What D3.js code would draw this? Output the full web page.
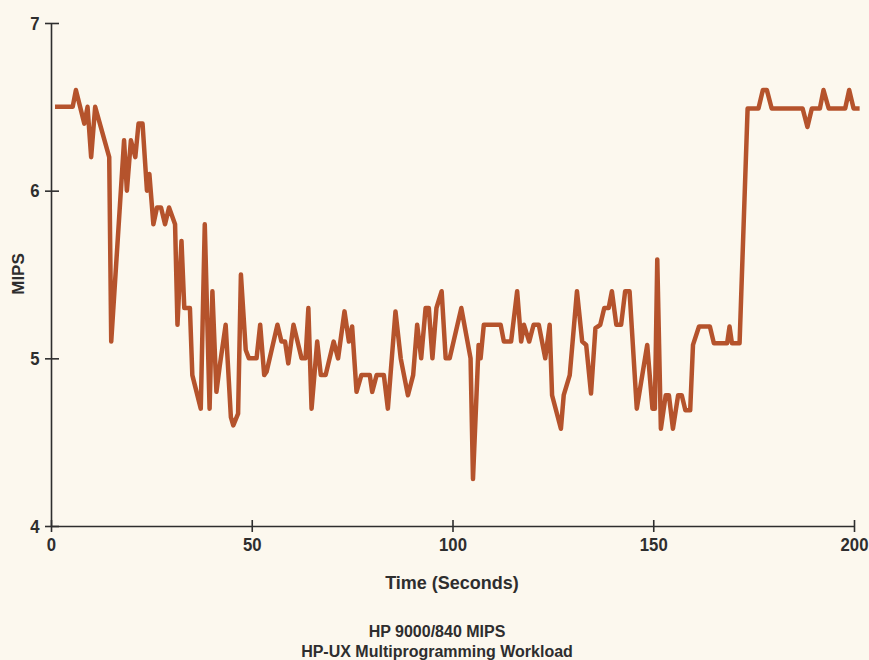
<!DOCTYPE html>
<html lang="en">
	<head>
		<title>HP 9000/840 MIPS</title>
		<script src="https://d3js.org/d3.v7.min.js"></script>
		<style>
			body { margin: 0; background: #fcf8ee; }
			text { fill: #2e2e2e; }
		</style>
	</head>

	<body>
		<script>

			times = [1, 5.4, 6.2, 8.3, 9.1, 10, 11, 14.5, 15, 18.2, 18.9, 19.9, 21, 21.8, 22.8, 23.9, 24.5, 25.5,
				26.4, 27.4, 28.4, 29.4, 30.9, 31.5, 32.5, 33.2, 34.6, 35.2, 37.3, 38.3, 39.5, 40.2, 41.2, 42, 43.5,
				44.8, 45.4, 46.6, 47.3, 48.5, 49.3, 51.2, 52.1, 53.1, 53.7, 56.4, 57.4, 58.3, 59.1, 60.4, 61.4, 62.4,
				63.4, 64.1, 64.9, 66.3, 67.2, 68.4, 70.4, 71.5, 73.1, 74.2, 75, 76.1, 77.3, 79.4, 80, 81.1, 82.9, 83.9,
				85.8, 87.1, 88.9, 90.2, 91.2, 92.2, 93.3, 94.1, 95, 96, 97.3, 98.3, 99.3, 102.2, 104.5, 105.1, 106.5,
				107, 107.8, 112, 112.8, 114.6, 116.1, 117.1, 117.8, 119.1, 120.2, 121.5, 123.1, 124.2, 124.8, 127,
				127.7, 129.2, 131, 132.3, 133.3, 134.5, 135.6, 136.8, 137.8, 138.9, 139.7, 140.8, 142, 143, 144.1,
				145.9, 148.5, 149.8, 150.4, 151, 151.9, 153.1, 153.9, 154.9, 156.2, 157.1, 158, 159.2, 159.9, 161.4,
				164.1, 165.1, 168.4, 169, 169.6, 171.5, 173.5, 176.2, 177.3, 178.3, 179.5, 187.2, 188.4, 189.5,
				191.5, 192.4, 193.7, 197.8, 198.8, 199.9, 201.4];

			mips = [6.5, 6.5, 6.6, 6.4, 6.5, 6.2, 6.5, 6.2, 5.1, 6.3, 6.0, 6.3, 6.2, 6.4, 6.4, 6.0, 6.1, 5.8,
				5.9, 5.9, 5.8, 5.9, 5.8, 5.2, 5.7, 5.3, 5.3, 4.9, 4.7, 5.8, 4.7, 5.4, 4.8, 4.95, 5.2,
				4.65, 4.6, 4.67, 5.5, 5.05, 5.0, 5.0, 5.2, 4.9, 4.92, 5.2, 5.1, 5.1, 4.97, 5.2, 5.1, 5.0,
				5.0, 5.3, 4.7, 5.1, 4.9, 4.9, 5.1, 5.0, 5.28, 5.1, 5.19, 4.8, 4.9, 4.9, 4.8, 4.9, 4.9, 4.7,
				5.28, 5.0, 4.78, 4.9, 5.2, 5.0, 5.3, 5.3, 5.0, 5.3, 5.4, 5.0, 5.0, 5.3, 5.0, 4.28, 5.08,
				5.0, 5.2, 5.2, 5.1, 5.1, 5.4, 5.1, 5.2, 5.1, 5.2, 5.2, 5.0, 5.2, 4.78, 4.58,
				4.78, 4.9, 5.4, 5.1, 5.08, 4.79, 5.18, 5.2, 5.3, 5.3, 5.4, 5.2, 5.2, 5.4, 5.4,
				4.7, 5.08, 4.7, 4.7, 5.59, 4.58, 4.78, 4.78, 4.58, 4.78, 4.78, 4.69, 4.69, 5.08, 5.19,
				5.19, 5.09, 5.09, 5.19, 5.09, 5.09, 6.49, 6.49, 6.6, 6.6, 6.49, 6.49, 6.38, 6.49,
				6.49, 6.6, 6.49, 6.49, 6.6, 6.49, 6.49];

			xTicks = [0, 50, 100, 150, 200];
			yTicks = [4, 5, 6, 7];

			data = times.map((t, i) => ({t: t, v: mips[i]}));

			var width = 869;
			var height = 660;
			var plain = "'Liberation Sans', Arial, sans-serif";

			var svg = d3.select("body").append("svg")
				.attr("width", width)
				.attr("height", height);

			x = d3.scaleLinear()
				.domain([0, 200])
				.range([51, 854]);

			y = d3.scaleLinear()
				.domain([4, 7])
				.range([526, 23]);

			xAxis = g => g
				.attr("transform", `translate(0,${y(4)})`)
				.call(d3.axisBottom(x).tickValues(xTicks).tickFormat(d3.format("d")).tickSize(0).tickPadding(12))
				.call(g => g.selectAll(".tick line").attr("y1", -6).attr("y2", 6));

			yAxis = g => g
				.attr("transform", `translate(${x(0)},0)`)
				.call(d3.axisLeft(y).tickValues(yTicks).tickFormat(d3.format("d")).tickSize(0).tickPadding(13))
				.call(g => g.selectAll(".tick line").attr("x1", -6).attr("x2", 8));

			svg.append("g").call(xAxis);
			svg.append("g").call(yAxis);

			svg.selectAll(".domain, .tick line")
				.attr("stroke", "#2e2e2e")
				.attr("stroke-width", 1.6);
			// condensed look of the printed digits
			svg.selectAll(".tick text")
				.attr("font-size", 19)
				.attr("font-weight", "bold")
				.attr("fill", "#2e2e2e")
				.attr("font-family", plain)
				.attr("transform", "scale(0.88,1)");

			line = d3.line()
				.x(d => x(d.t))
				.y(d => y(d.v));

			svg.append("path")
				.datum(data)
				.attr("fill", "none")
				.attr("stroke", "#b5532c")
				.attr("stroke-width", 4.5)
				.attr("stroke-linejoin", "round")
				.attr("d", line);

			// labels
			svg.append("text")
				.attr("x", 452)
				.attr("y", 589)
				.attr("text-anchor", "middle")
				.attr("font-size", 18)
				.attr("font-weight", "bold")
				.style("font-family", plain)
				.text("Time (Seconds)");

			svg.append("text")
				.attr("transform", "translate(24,274) rotate(-90)")
				.attr("text-anchor", "middle")
				.attr("font-size", 17)
				.attr("font-weight", "bold")
				.style("font-family", plain)
				.text("MIPS");

			svg.append("text")
				.attr("x", 437)
				.attr("y", 637)
				.attr("text-anchor", "middle")
				.attr("font-size", 16)
				.attr("font-weight", "bold")
				.style("font-family", plain)
				.text("HP 9000/840 MIPS");

			svg.append("text")
				.attr("x", 437)
				.attr("y", 657)
				.attr("text-anchor", "middle")
				.attr("font-size", 16)
				.attr("font-weight", "bold")
				.style("font-family", plain)
				.text("HP-UX Multiprogramming Workload");

		</script>
	</body>
</html>
